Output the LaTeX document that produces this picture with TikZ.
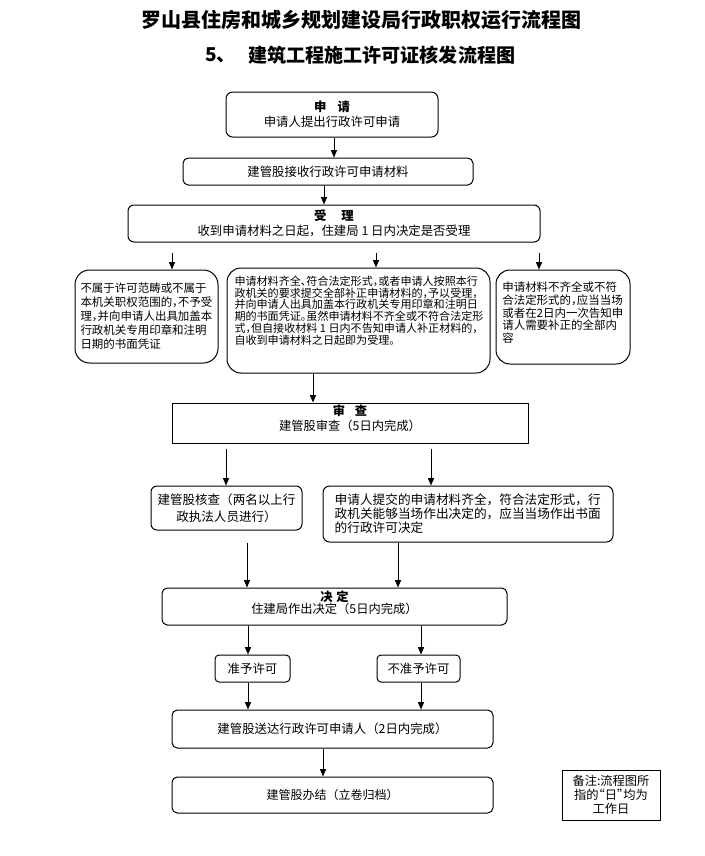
\documentclass[tikz,border=0pt]{standalone}
\usepackage{fontspec}
\setmainfont{Noto Sans CJK SC}
\usetikzlibrary{arrows.meta}
\newcommand\hp[1]{\makebox[0.5em][l]{#1}}
\newcommand\myLQ{\makebox[0.5em][r]{“}}
\newcommand\myRQ{\makebox[0.5em][l]{”}}
\newcommand\lift[4]{\raisebox{#1}[0pt][0pt]{\fontsize{#2}{#3}\selectfont\begin{tabular}{@{}c@{}}#4\end{tabular}}}
\begin{document}
\begin{tikzpicture}[x=0.75pt,y=-0.75pt,
  box/.style={draw=black,line width=0.75pt,inner sep=0pt,rounded corners=#1,font=\fontsize{9.3}{11.25}\selectfont},
  box/.default=4pt,
  sbox/.style={draw=black,line width=0.75pt,inner sep=0pt,sharp corners,font=\fontsize{9.3}{11.25}\selectfont},
  arr/.style={-{Triangle[length=5.5pt,width=4.5pt]},line width=0.75pt},
  ttl/.style={font=\fontsize{15}{18}\selectfont\bfseries,inner sep=0pt}]
\fill[white] (0,0) rectangle (705,856);
\useasboundingbox (0,0) rectangle (705,856);

% titles
\node[ttl] (t1) at (361,19.5) {罗山县住房和城乡规划建设局行政职权运行流程图};
\node[ttl,anchor=west,font=\fontsize{14.3}{17}\selectfont\bfseries] (t2a) at (205,55.5) {5、};
\node[ttl,anchor=west,font=\fontsize{14.3}{17}\selectfont\bfseries] (t2b) at (248,55.5) {建筑工程施工许可证核发流程图};

% boxes
\node[box=5pt,minimum width=159pt,minimum height=33.75pt,align=center] (b1) at (332,114.5)
  {{\bfseries 申\hspace{0.9em}请}\\申请人提出行政许可申请};
\node[box=4pt,minimum width=217.5pt,minimum height=20.25pt] (b2) at (328,171.5)
  {建管股接收行政许可申请材料};
\node[box=4.5pt,minimum width=309pt,minimum height=27.75pt,align=center] (b3) at (334,223.5)
  {{\bfseries 受\hspace{1.2em}理}\\收到申请材料之日起，住建局 1 日内决定是否受理};

\node[box=11pt,minimum width=107.25pt,minimum height=69.75pt] (b4L) at (146.5,316.5)
  {\parbox[c][50.25pt][t]{99pt}{\fontsize{8.6}{10.4}\selectfont
  不属于许可范畴或不属于\\
  本机关职权范围的\hp{，}不予受\\
  理\hp{，}并向申请人出具加盖本\\
  行政机关专用印章和注明\\
  日期的书面凭证}};
\node[box=10.5pt,minimum width=197.25pt,minimum height=78.75pt] (b4M) at (358.5,320.5)
  {\parbox[c][66.75pt][t]{186pt}{\fontsize{8.3}{8.8}\selectfont
  申请材料齐全\hp{、}符合法定形式\hp{，}或者申请人按照本行\\
  政机关的要求提交全部补正申请材料的\hp{，}予以受理\hp{，}\\
  并向申请人出具加盖本行政机关专用印章和注明日\\
  期的书面凭证\hp{。}虽然申请材料不齐全或不符合法定形\\
  式\hp{，}但自接收材料 1 日内不告知申请人补正材料的\hp{，}\\
  自收到申请材料之日起即为受理\hp{。}}};
\node[box=10.5pt,minimum width=100.5pt,minimum height=70.5pt] (b4R) at (563,317)
  {\parbox[c][52.5pt][t]{91pt}{\fontsize{8.6}{9.5}\selectfont
  申请材料不齐全或不符\\
  合法定形式的\hp{，}应当当场\\
  或者在2日内一次告知申\\
  请人需要补正的全部内\\
  容}};

\node[sbox,minimum width=267pt,minimum height=30pt] (b5) at (350,423)
  {\lift{0.4pt}{9.2}{11.25}{{\bfseries 审\hspace{0.8em}查}\\建管股审查（5日内完成）}};

\node[box=4.5pt,minimum width=113.25pt,minimum height=33pt,align=center,font=\fontsize{9.4}{12.75}\selectfont] (b6L) at (226.5,508)
  {建管股核查（两名以上行\\政执法人员进行）};
\node[box=5pt,minimum width=217.5pt,minimum height=42pt,align=left,text width=200pt,font=\fontsize{9.5}{10.5}\selectfont] (b6R) at (468,514)
  {申请人提交的申请材料齐全，符合法定形式，行\\政机关能够当场作出决定的，应当当场作出书面\\的行政许可决定};

\node[box=4pt,minimum width=258.75pt,minimum height=27.75pt] (b7) at (334.5,606.5)
  {\lift{-0.6pt}{9.2}{11.25}{{\bfseries 决\hspace{0.3em}定}\\[-2.8pt]住建局作出决定（5日内完成）}};

\node[box=3pt,minimum width=56.25pt,minimum height=20.25pt] (b8L) at (252.5,668.5) {准予许可};
\node[box=3pt,minimum width=62.25pt,minimum height=20.25pt] (b8R) at (418.5,668.5) {不准予许可};

\node[box=4pt,minimum width=240.75pt,minimum height=28.5pt] (b9) at (332.5,729)
  {建管股送达行政许可申请人（2日内完成）};
\node[box=4pt,minimum width=240.75pt,minimum height=27pt,font=\fontsize{9}{11}\selectfont] (b10) at (332.5,795)
  {建管股办结（立卷归档）};

\node[sbox,minimum width=73.5pt,minimum height=37.5pt,align=center,font=\fontsize{9.2}{10.5}\selectfont] (note) at (611,795)
  {备注:流程图所\\指的\myLQ 日\myRQ 均为\\工作日};

% arrow x positions
\coordinate (x334) at (334,0);
\coordinate (x324) at (324,0);
\coordinate (x172) at (172,0);
\coordinate (x376) at (376,0);
\coordinate (x539) at (539,0);
\coordinate (x313) at (313,0);
\coordinate (x226) at (226,0);
\coordinate (x431) at (431,0);
\coordinate (x247) at (247,0);
\coordinate (x398) at (398,0);
\coordinate (x248) at (248,0);
\coordinate (x421) at (421,0);
\coordinate (x323) at (323,0);

\draw[arr] (b1.south -| x334) -- (b2.north -| x334);
\draw[arr] (b2.south -| x324) -- (b3.north -| x324);
\draw[arr,shorten <=7.5pt] (b3.south -| x172) -- (b4L.north -| x172);
\draw[arr,shorten <=7.5pt] (b3.south -| x376) -- (b4M.north -| x376);
\draw[arr,shorten <=7.5pt] (b3.south -| x539) -- (b4R.north -| x539);
\draw[arr] (b4M.south -| x313) -- (b5.north -| x313);
\draw[arr,shorten <=3.75pt] (b5.south -| x226) -- (b6L.north -| x226);
\draw[arr,shorten <=3.75pt] (b5.south -| x431) -- (b6R.north -| x431);
\draw[arr,shorten <=9pt] (b6L.south -| x247) -- (b7.north -| x247);
\draw[arr] (b6R.south -| x398) -- (b7.north -| x398);
\draw[arr] (b7.south -| x248) -- (b8L.north -| x248);
\draw[arr] (b7.south -| x421) -- (b8R.north -| x421);
\draw[arr] (b8L.south -| x248) -- (b9.north -| x248);
\draw[arr] (b8R.south -| x421) -- (b9.north -| x421);
\draw[arr] (b9.south -| x323) -- (b10.north -| x323);
\end{tikzpicture}
\end{document}
